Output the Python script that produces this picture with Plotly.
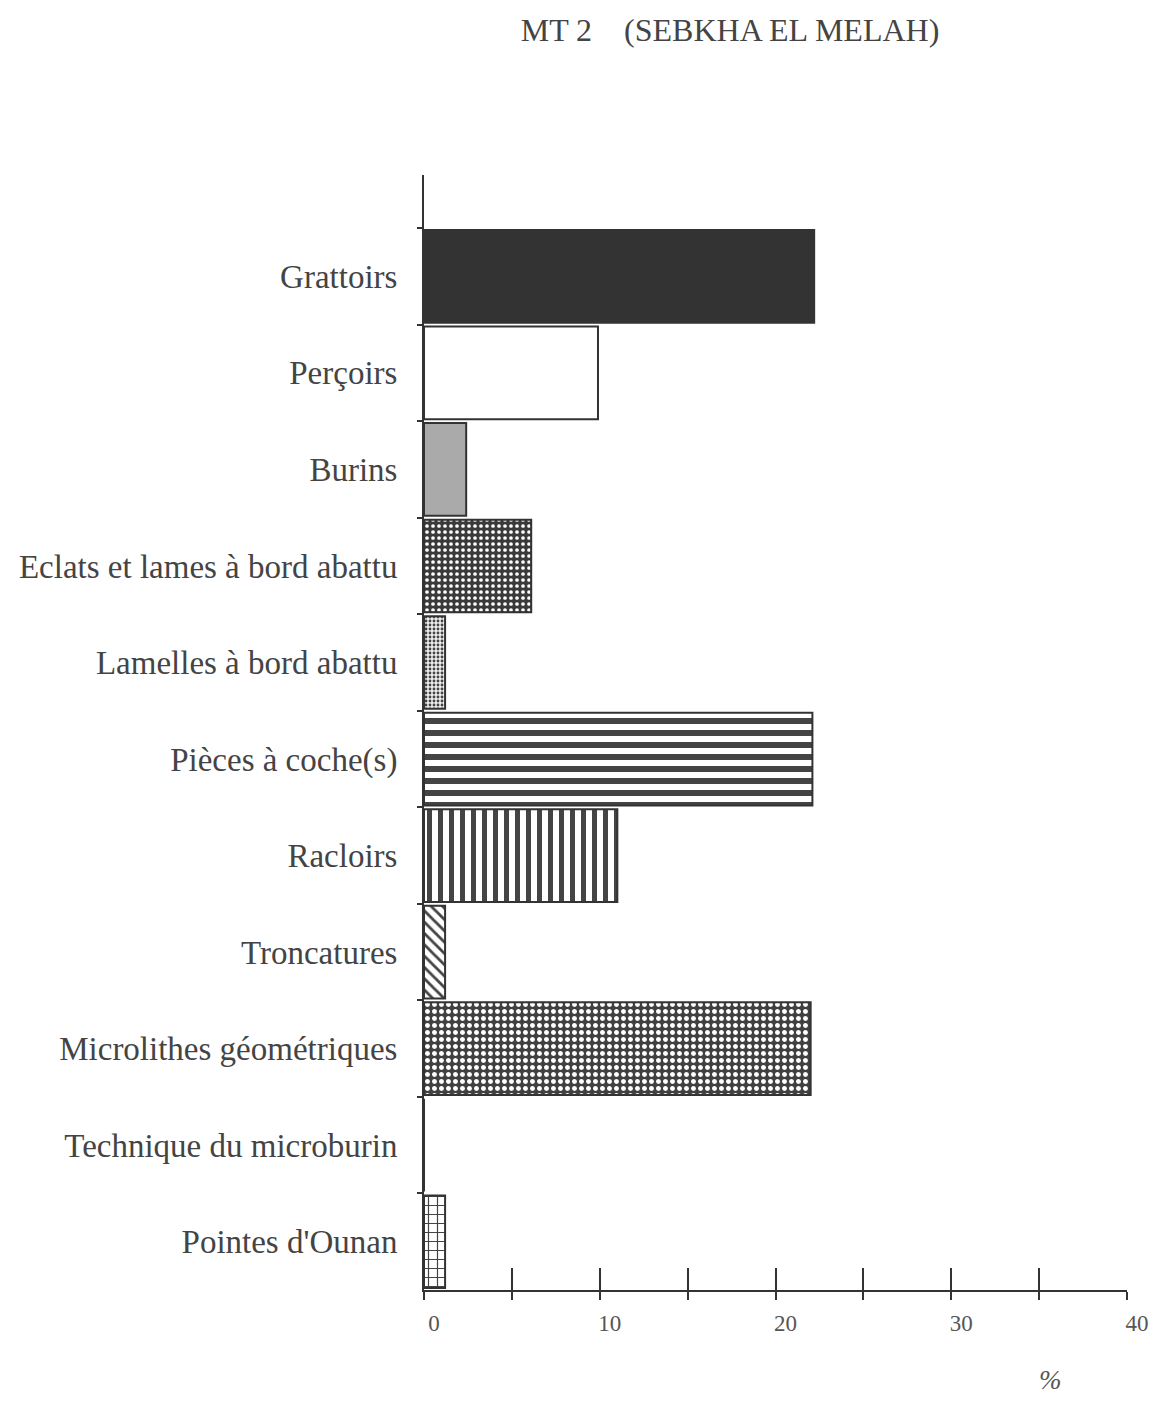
import plotly.graph_objects as go

categories = ["Grattoirs", "Perçoirs", "Burins", "Eclats et lames à bord abattu",
              "Lamelles à bord abattu", "Pièces à coche(s)", "Racloirs", "Troncatures",
              "Microlithes géométriques", "Technique du microburin", "Pointes d'Ounan"]
values = [22.2, 9.9, 2.4, 6.1, 1.2, 22.1, 11.0, 1.2, 22.0, 0.0, 1.2]
tick_vals = [0, 5, 10, 15, 20, 25, 30, 35, 40]
tick_text = ["0", "", "10", "", "20", "", "30", "", "40"]

# styles
fill_col = ["#333333", "#ffffff", "#aaaaaa", "#3a3a3a", "#eeeeee", "#ffffff",
            "#ffffff", "#ffffff", "#404040", "#ffffff", "#ffffff"]
pat_shape = ["", "", "", ".", ".", "-", "|", "\\", ".", "", "+"]
pat_fg = ["#333333", "#333333", "#333333", "#f0f0f0", "#888888", "#333333",
          "#333333", "#333333", "#f4f4f4", "#333333", "#333333"]
pat_size = [8, 8, 8, 6, 4, 12, 11, 8, 7, 8, 9]
pat_sol = [0.3, 0.3, 0.3, 0.3, 0.4, 0.5, 0.45, 0.35, 0.4, 0.3, 0.25]

FONT = "Liberation Serif, Times New Roman, serif"
TXT = "#444444"

# page has an 8px body margin; keep the figure inside the window (no scrollbars)
OFF = 8
W, H = 1158 - OFF, 1404 - 2 * OFF
ML, MT = 424 - OFF, 175 - OFF
MR = W - (1127 - OFF)
MB = H - (1290 - OFF)

fig = go.Figure()
fig.add_trace(go.Bar(
    y=categories, x=values, orientation="h",
    marker=dict(
        color=fill_col,
        line=dict(color="#333333", width=2),
        pattern=dict(shape=pat_shape, fgcolor=pat_fg, size=pat_size,
                     solidity=pat_sol, fillmode="overlay", fgopacity=1),
    ),
    showlegend=False,
))
# overlay axis to draw upward part of ticks
fig.add_trace(go.Scatter(x=[None], y=[None], xaxis="x2", showlegend=False))

fig.update_layout(
    width=W, height=H,
    margin=dict(l=ML, r=MR, t=MT, b=MB, autoexpand=False),
    paper_bgcolor="white", plot_bgcolor="white",
    bargap=0.04,
    font=dict(family=FONT, color=TXT),
    title=dict(text="MT 2    (SEBKHA EL MELAH)", x=(730 - OFF) / W, xanchor="center",
               xref="container",
               y=1 - (30 - OFF) / H, yanchor="middle", yref="container",
               font=dict(size=32, family=FONT, color=TXT)),
    xaxis=dict(range=[0, 40], tickvals=tick_vals, ticktext=tick_text,
               showline=True, linecolor="#333333", linewidth=2,
               ticks="outside", ticklen=8, tickwidth=2, tickcolor="#333333",
               showgrid=False, zeroline=False, automargin=False,
               tickfont=dict(size=23, family=FONT, color="#555555"),
               ticklabelstandoff=3, ticklabelshift=10, ticklabeloverflow="allow"),
    xaxis2=dict(range=[0, 40], overlaying="x", matches="x", tickvals=tick_vals,
                showticklabels=False, ticks="inside", ticklen=22, tickwidth=2,
                tickcolor="#333333", showgrid=False, zeroline=False, showline=False,
                side="bottom", anchor="y", automargin=False),
    yaxis=dict(categoryorder="array", categoryarray=categories,
               range=[10.5, -1.05], showline=True, linecolor="#333333", linewidth=2,
               ticks="outside", tickson="boundaries", ticklen=5, tickwidth=2,
               tickcolor="#333333", showgrid=False, zeroline=False, automargin=False,
               tickfont=dict(size=33, family=FONT, color=TXT), ticklabelstandoff=18),
    annotations=[dict(text="<i>%</i>", x=(1050 - 424) / (W - ML - MR),
                      y=(H - MB - (1380 - OFF)) / (H - MT - MB),
                      xref="paper", yref="paper", xanchor="center", yanchor="middle",
                      showarrow=False, font=dict(size=27, family=FONT, color="#555555"))],
)

fig.write_html("out.html")
